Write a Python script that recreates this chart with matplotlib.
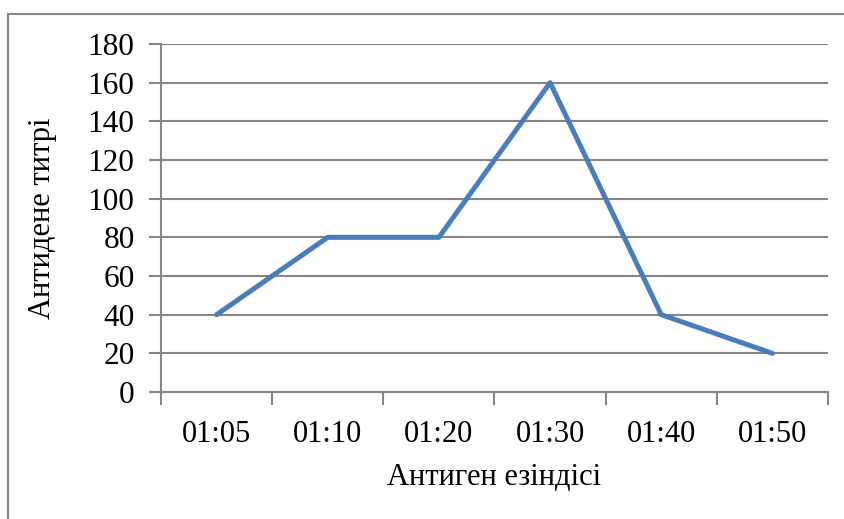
import matplotlib.pyplot as plt
from matplotlib.patches import Rectangle

plt.rcParams['font.family'] = ['Liberation Serif', 'DejaVu Serif']

# data
times = ['01:05', '01:10', '01:20', '01:30', '01:40', '01:50']
titre = [40, 80, 80, 160, 40, 20]
yticks = [0, 20, 40, 60, 80, 100, 120, 140, 160, 180]

fig = plt.figure(figsize=(8.45, 5.19), dpi=100)
ax = fig.add_axes([161 / 845, 127 / 519, 667 / 845, 348 / 519])

grey = '#868686'
x = range(len(times))
ax.plot(x, titre, color='#4A7EBB', lw=3.6, solid_capstyle='round', zorder=3)

ax.set_xlim(-0.5, len(times) - 0.5)
ax.set_ylim(0, 180)
ax.set_yticks(yticks)
ax.set_xticks(x)
ax.set_xticklabels(times)
ax.set_xticks([i - 0.5 for i in range(len(times) + 1)], minor=True)
ax.tick_params(axis='x', which='major', length=0, pad=20, labelsize=22)
ax.tick_params(axis='x', which='minor', length=9, width=1.5, color=grey)
ax.tick_params(axis='y', length=9, width=1.5, color=grey, pad=10, labelsize=22.5)

ax.grid(axis='y', color=grey, lw=1.5)
for s in ['top', 'right']:
    ax.spines[s].set_visible(False)
for s in ['left', 'bottom']:
    ax.spines[s].set_color(grey)
    ax.spines[s].set_linewidth(1.5)

ax.set_ylabel('Антидене титрі', fontsize=22, labelpad=22)
ax.set_xlabel('Антиген езіндісі', fontsize=22, labelpad=10)

# outer chart frame
fig.patches.append(Rectangle((8 / 845, -0.1), 1.1, (519 - 14) / 519 + 0.1,
                             transform=fig.transFigure, fill=False,
                             edgecolor=grey, lw=1.5))

fig.savefig('out.png', dpi=100)
